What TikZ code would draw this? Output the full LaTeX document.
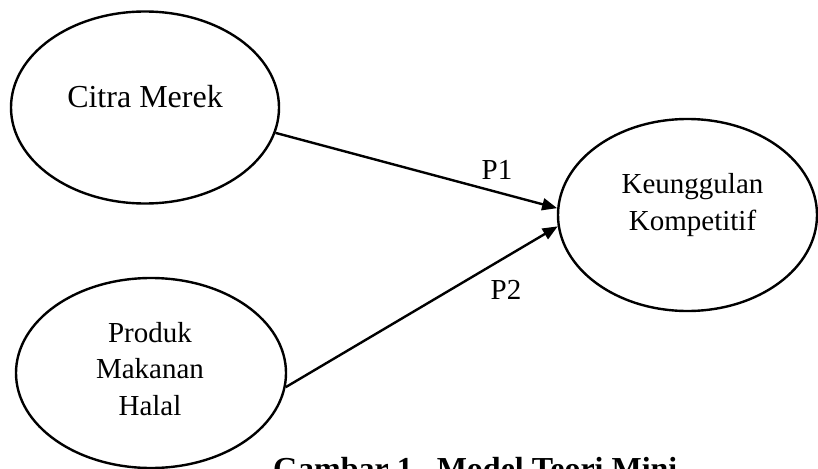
\documentclass[tikz,border=0pt]{standalone}
\usepackage{fontspec}
\setmainfont{Liberation Serif}
\usetikzlibrary{arrows.meta,shapes.geometric}
\tikzset{
  construct/.style={draw, ellipse, line width=2.4pt, inner sep=0pt},
  lbl/.style={inner sep=0pt, font=\fontsize{29}{36.5}\selectfont, align=center},
  arr/.style={line width=2.4pt, -{Triangle[length=15pt,width=12pt]}},
}
\begin{document}
\begin{tikzpicture}[x=1pt,y=-1pt]
\useasboundingbox (0,0) rectangle (818,468);
\node[construct, minimum width=268pt, minimum height=192pt] (cm) at (145,107.5) {};
\node[construct, minimum width=270pt, minimum height=190pt] (pm) at (151,373) {};
\node[construct, minimum width=259pt, minimum height=192pt] (kk) at (687.5,215) {};
\node[lbl, anchor=base, font=\fontsize{32}{36}\selectfont] (cmt) at (145,107) {Citra Merek};
\node[lbl] (pmt) at (150,369) {Produk\\Makanan\\Halal};
\node[lbl] (kkt) at (692.5,205) {Keunggulan\\Kompetitif};
\draw[arr] (cm.-11) -- (kk.177.8);
\draw[arr] (pm.-6) -- (kk.185.5);
\node[lbl, anchor=base] (p1) at (497,179) {P1};
\node[lbl, anchor=base] (p2) at (506,299) {P2};
\node[inner sep=0pt, anchor=base west, font=\fontsize{32}{36}\selectfont\bfseries] (cap) at (273,479) {Gambar 1.\ \ Model Teori Mini};
\end{tikzpicture}
\end{document}
